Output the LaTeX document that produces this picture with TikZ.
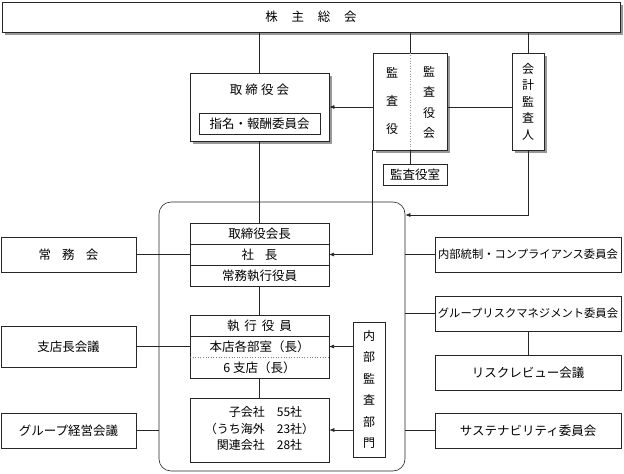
\documentclass[tikz,border=0pt]{standalone}
\usepackage{fontspec}
\setmainfont{Noto Sans CJK JP}
\usetikzlibrary{positioning,shadows,arrows.meta}

\begin{document}
\begin{tikzpicture}[x=1pt, y=-1pt, font=\fontsize{12.5}{15}\selectfont, line width=0.6pt, draw=black!85,
	box/.style={rectangle, draw, align=center, inner sep=1pt},
	shadowbox/.style={box, fill=white, drop shadow={shadow xshift=3pt, shadow yshift=-3pt, fill=black!40, opacity=1}},
	row/.style={rectangle, minimum width=139pt, minimum height=21pt, inner sep=1pt, outer sep=0pt},
	sidebox/.style={box, minimum width=135pt, minimum height=35pt},
	rightbox/.style={box, minimum width=186pt, minimum height=35pt},
	links/.style={-{Latex[length=5pt,width=4pt]}}]

	\useasboundingbox (0,0) rectangle (624,474);

	\node[shadowbox, minimum width=618pt, minimum height=30pt] at (311,17) (shareholders) {株\hspace{1.1em}主\hspace{1.1em}総\hspace{1.1em}会};

	\node[shadowbox, minimum width=139pt, minimum height=68pt] at (259.5,107) (board) {};
	\node at (259.5,90) (boardlabel) {取\hspace{0.25em}締\hspace{0.25em}役\hspace{0.25em}会};
	\node[box, minimum width=121pt, minimum height=21pt] at (259.5,123.5) (nomination) {指名・報酬委員会};

	\node[shadowbox, minimum width=74pt, minimum height=97pt] at (410,101.5) (auditors) {};
	\draw[dotted, black!40] (auditors.north) -- (auditors.south);
	\node[align=center, font=\fontsize{12}{28}\selectfont] at (392,101) (auditorlabel) {監\\査\\役};
	\node[align=center, font=\fontsize{12}{20.5}\selectfont] at (429,102.5) (auditboardlabel) {監\\査\\役\\会};

	\node[shadowbox, minimum width=32pt, minimum height=97pt, font=\fontsize{12}{16.5}\selectfont] at (528,101.5) (accountingauditor) {会\\計\\監\\査\\人};

	\node[box, minimum width=64pt, minimum height=21pt] at (415,174.5) (auditoffice) {監査役室};

	% executive part
	\node[draw, rounded corners=12pt, minimum width=246pt, minimum height=269pt] at (282,336.5) (management) {};

	\node[row, draw] at (259.5,233.5) (chairman) {取締役会長};
	\node[row, draw, below=0pt of chairman] (president) {社\hspace{0.85em}長};
	\node[row, draw, below=0pt of president] (managingofficers) {常務執行役員};

	\node[row, draw] at (259.5,325.5) (officers) {執\hspace{0.4em}行\hspace{0.4em}役\hspace{0.4em}員};
	\node[row, below=0pt of officers] (headoffice) {本店各部室（長）};
	\node[row, below=0pt of headoffice] (branches) {6 支店（長）};
	\draw (headoffice.north west) rectangle (branches.south east);
	\draw[dotted, black!50] (headoffice.south west) -- (headoffice.south east);

	\node[box, minimum width=139pt, minimum height=64pt, font=\fontsize{12}{16.5}\selectfont] at (259.5,430) (affiliates) {\begin{tabular}{@{}r@{\hspace{1em}}l@{}}子会社 & 55社\\（うち海外 & 23社）\\関連会社 & 28社\end{tabular}};

	\node[box, minimum width=32pt, minimum height=135pt, font=\fontsize{12}{21.5}\selectfont] at (369,389.5) (internalaudit) {内\\部\\監\\査\\部\\門};

	% left side
	\node[sidebox] at (68.5,254.5) (managingboard) {常\hspace{0.9em}務\hspace{0.9em}会};
	\node[sidebox, minimum height=41pt] at (68.5,346.5) (branchmeeting) {支店長会議};
	\node[sidebox] at (68.5,430.5) (groupmeeting) {グループ経営会議};

	% right side
	\node[rightbox, font=\fontsize{11.3}{13}\selectfont] at (528,254.5) (compliance) {内部統制・コンプライアンス委員会};
	\node[rightbox, font=\fontsize{11.3}{13}\selectfont] at (528,313.5) (riskcommittee) {グループリスクマネジメント委員会};
	\node[rightbox] at (528,372.5) (riskreview) {リスクレビュー会議};
	\node[rightbox] at (528,430.5) (sustainability) {サステナビリティ委員会};

	\coordinate (auditentry) at (management.east |- 0,215);

	\draw (shareholders.south -| board.north) -- (board.north);
	\draw (shareholders.south -| auditors.north) -- (auditors.north);
	\draw (shareholders.south -| accountingauditor.north) -- (accountingauditor.north);

	\draw[links] (auditors.west |- board.east) -- (board.east);
	\draw (auditors.east |- board.east) -- (accountingauditor.west |- board.east);
	\draw (auditors.south) -- (auditors.south |- auditoffice.north);
	\draw[links] (auditors.south west) |- (president.east);
	\draw[links] (accountingauditor.south) |- (auditentry);

	\draw (board.south) -- (chairman.north);
	\draw (managingofficers.south) -- (officers.north);
	\draw (branches.south) -- (affiliates.north);

	\draw (managingboard.east) -- (president.west);
	\draw (branchmeeting.east) -- (headoffice.west);
	\draw (groupmeeting.east) -- (groupmeeting.east -| management.west);

	\draw (compliance.west -| management.east) -- (compliance.west);
	\draw (riskcommittee.west -| management.east) -- (riskcommittee.west);
	\draw (riskcommittee.south) -- (riskreview.north);
	\draw (sustainability.west -| management.east) -- (sustainability.west);

	\draw[links] (internalaudit.west |- headoffice.east) -- (headoffice.east);
	\draw[links] (internalaudit.west |- affiliates.east) -- (affiliates.east);
\end{tikzpicture}
\end{document}
